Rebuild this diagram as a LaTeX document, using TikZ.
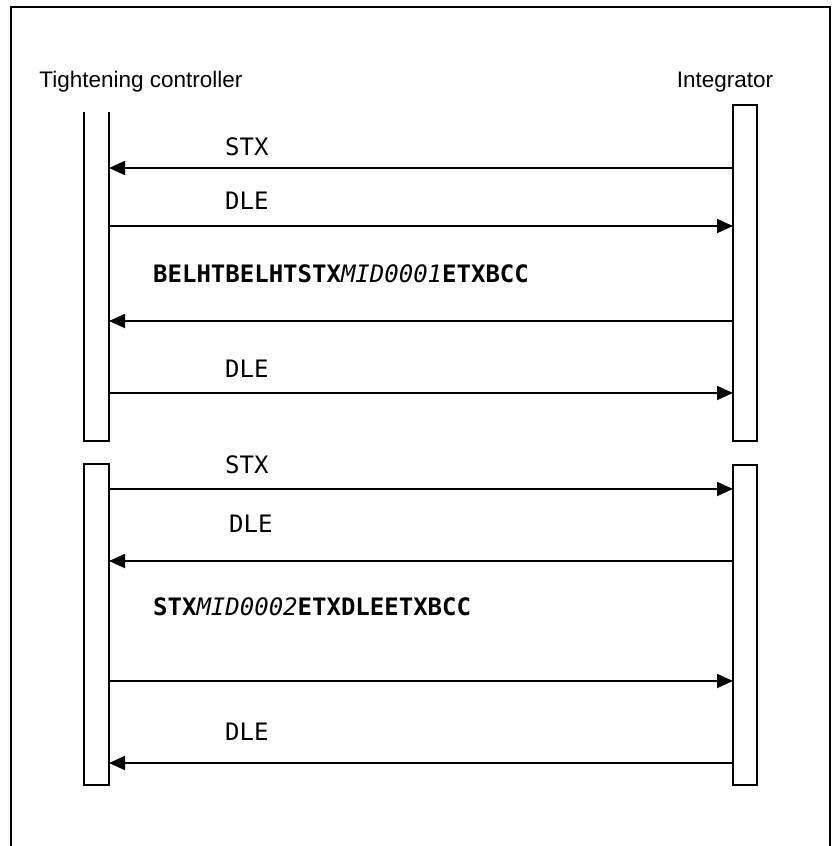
\documentclass[tikz,border=0pt]{standalone}
\usepackage{fontspec}
\setmainfont{Liberation Sans}
\newfontfamily\monofont{DejaVu Sans Mono}
\usetikzlibrary{arrows.meta}
\tikzset{
  msg/.style={line width=1.8pt,-{Triangle[length=16pt,width=14pt]}},
  bar/.style={line width=1.6pt},
  lbl/.style={anchor=base west,inner sep=0pt,font=\monofont\fontsize{24}{28}\selectfont},
  party/.style={anchor=base,inner sep=0pt,font=\fontsize{22.5}{26}\selectfont}
}
\begin{document}
\begin{tikzpicture}[x=1pt,y=-1pt]
\useasboundingbox (0,0) rectangle (831,846);
\draw[line width=2pt] (11,870) -- (11,7) -- (830,7) -- (830,870);
\node[party] (tc) at (141,87) {Tightening controller};
\node[party] (int) at (725,87) {Integrator};
\draw[bar] (84,112) -- (84,441) -- (109,441) -- (109,112);
\draw[bar] (733,105) rectangle (757,441);
\draw[bar] (84,464) rectangle (109,785);
\draw[bar] (733,465) rectangle (757,785);
\foreach \i/\y in {1/168,2/226,3/321,4/393,5/489,6/561,7/681,8/763} {
  \coordinate (l\i) at (109,\y);
  \coordinate (r\i) at (733,\y);
}
\foreach \i/\a/\b in {1/r/l,2/l/r,3/r/l,4/l/r,5/l/r,6/r/l,7/l/r,8/r/l} \draw[msg] (\a\i) -- (\b\i);
\node[lbl] (m1) at (225,155) {STX};
\node[lbl] (m2) at (225,209) {DLE};
\node[lbl] (m3) at (153,282) {\textbf{BELHTBELHTSTX}\textit{MID0001}\textbf{ETXBCC}};
\node[lbl] (m4) at (225,377) {DLE};
\node[lbl] (m5) at (225,473) {STX};
\node[lbl] (m6) at (229,532) {DLE};
\node[lbl] (m7) at (153,615) {\textbf{STX}\textit{MID0002}\textbf{ETXDLEETXBCC}};
\node[lbl] (m8) at (225,740) {DLE};
\end{tikzpicture}
\end{document}
